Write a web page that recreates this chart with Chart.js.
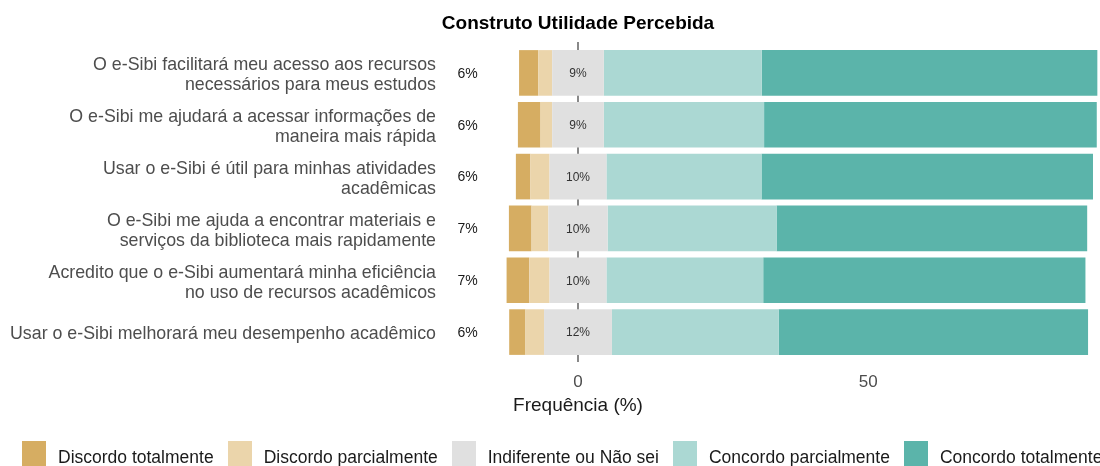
<!DOCTYPE html>
<html lang="pt-BR">
<head>
<meta charset="utf-8">
<title>Construto Utilidade Percebida</title>
<script src="https://cdn.jsdelivr.net/npm/chart.js@4.4.1/dist/chart.umd.min.js"></script>
<style>
  html, body { margin: 0; padding: 0; background: #fff; overflow: hidden; }
  .wrap { position: relative; width: 1100px; height: 466px; }
  .legend {
    position: absolute; top: 441px; left: 22px;
    display: flex; align-items: flex-start;
    font-family: "Liberation Sans", Arial, sans-serif; font-size: 17.5px; color: #1a1a1a;
  }
  .legend .item { display: flex; align-items: flex-start; margin-right: 14px; }
  .legend .key { width: 24px; height: 26px; margin-right: 12px; }
  .legend .txt { line-height: 20px; padding-top: 6px; white-space: nowrap; }
</style>
</head>
<body>
<div class="wrap">
  <canvas id="likertChart" width="1100" height="466"></canvas>
  <div class="legend" id="legend"></div>
</div>
<script>
const questions = [
  ['O e-Sibi facilitará meu acesso aos recursos', 'necessários para meus estudos'],
  ['O e-Sibi me ajudará a acessar informações de', 'maneira mais rápida'],
  ['Usar o e-Sibi é útil para minhas atividades', 'acadêmicas'],
  ['O e-Sibi me ajuda a encontrar materiais e', 'serviços da biblioteca mais rapidamente'],
  ['Acredito que o e-Sibi aumentará minha eficiência', 'no uso de recursos acadêmicos'],
  ['Usar o e-Sibi melhorará meu desempenho acadêmico'],
];

const levels = ['Discordo totalmente', 'Discordo parcialmente', 'Indiferente ou Não sei', 'Concordo parcialmente', 'Concordo totalmente'];
const levelColors = ['#D6AD62', '#EBD5AB', '#E0E0E0', '#ABD8D3', '#5BB4AA'];

// percentages per question
const discordoTotal = [3.3, 3.9, 2.5, 3.9, 3.9, 2.8];
const discordoParcial = [2.4, 2.0, 3.3, 2.9, 3.5, 3.2];
const indiferente = [8.9, 8.9, 9.8, 10.2, 9.8, 11.7];
const concordoParcial = [27.2, 27.6, 26.7, 29.1, 27.0, 28.7];
const concordoTotal = [57.8, 57.3, 57.1, 53.5, 55.5, 53.3];

const xTicks = [0, 50];

(() => {
  const fontFamily = '"Liberation Sans", Arial, sans-serif';
  const halfNeutral = indiferente.map(v => v / 2);

  const disagreeLabels = discordoTotal.map((v, i) => `${Math.round(v + discordoParcial[i])}%`);
  const neutralLabels = indiferente.map(v => `${Math.round(v)}%`);

  const makeSet = (label, data, color) => ({
    label,
    data,
    backgroundColor: color,
    borderWidth: 0,
    categoryPercentage: 1,
    barPercentage: 0.88,
    stack: 'likert',
  });

  const decorations = {
    id: 'decorations',
    beforeDatasetsDraw(chart) {
      const { ctx, chartArea, scales } = chart;
      const x0 = scales.x.getPixelForValue(0);
      ctx.save();
      ctx.strokeStyle = '#3a3a3a';
      ctx.lineWidth = 1.2;
      ctx.beginPath();
      ctx.moveTo(x0, chartArea.top - 5);
      ctx.lineTo(x0, chartArea.bottom + 4);
      ctx.stroke();
      ctx.restore();
    },
    afterDatasetsDraw(chart) {
      const { ctx, scales } = chart;
      const x0 = scales.x.getPixelForValue(0);
      const xLeft = scales.x.getPixelForValue(-19);
      ctx.save();
      ctx.textAlign = 'center';
      ctx.textBaseline = 'middle';
      questions.forEach((q, i) => {
        const y = scales.y.getPixelForValue(i);
        ctx.fillStyle = '#1a1a1a';
        ctx.font = `14px ${fontFamily}`;
        ctx.fillText(disagreeLabels[i], xLeft, y + 1);
        ctx.fillStyle = '#333333';
        ctx.font = `12px ${fontFamily}`;
        ctx.fillText(neutralLabels[i], x0, y + 1);
      });

      // title and axis title
      ctx.fillStyle = '#000000';
      ctx.textBaseline = 'alphabetic';
      ctx.font = `bold 19px ${fontFamily}`;
      ctx.fillText('Construto Utilidade Percebida', x0, 29);
      ctx.fillStyle = '#1a1a1a';
      ctx.font = `19px ${fontFamily}`;
      ctx.fillText('Frequência (%)', x0, 411);
      ctx.restore();
    },
  };

  new Chart(document.getElementById('likertChart'), {
    type: 'bar',
    data: {
      labels: questions,
      datasets: [
        makeSet(levels[2], halfNeutral.map(v => -v), levelColors[2]),
        makeSet(levels[1], discordoParcial.map(v => -v), levelColors[1]),
        makeSet(levels[0], discordoTotal.map(v => -v), levelColors[0]),
        makeSet(levels[2], halfNeutral, levelColors[2]),
        makeSet(levels[3], concordoParcial, levelColors[3]),
        makeSet(levels[4], concordoTotal, levelColors[4]),
      ],
    },
    options: {
      indexAxis: 'y',
      responsive: false,
      animation: false,
      layout: { padding: { top: 47, bottom: 78, left: 0, right: 0 } },
      plugins: {
        legend: { display: false },
        tooltip: { enabled: false },
      },
      scales: {
        x: {
          stacked: true,
          min: -22.563,
          max: 89.907,
          grid: { display: false, drawTicks: false },
          border: { display: false },
          afterBuildTicks: (scale) => { scale.ticks = xTicks.map(value => ({ value })); },
          afterFit: (scale) => { scale.height = 30; },
          ticks: {
            padding: 14,
            color: '#4d4d4d',
            font: { family: fontFamily, size: 17 },
          },
        },
        y: {
          stacked: true,
          grid: { display: false, drawTicks: false },
          border: { display: false },
          afterFit: (scale) => { scale.width = 447; },
          ticks: {
            padding: 11,
            labelOffset: 2.5,
            color: '#4d4d4d',
            font: { family: fontFamily, size: 17.8, lineHeight: 1.12 },
          },
        },
      },
    },
    plugins: [decorations],
  });

  const legend = document.getElementById('legend');
  levels.forEach((name, i) => {
    const item = document.createElement('div');
    item.className = 'item';
    item.innerHTML = `<span class="key" style="background:${levelColors[i]}"></span><span class="txt">${name}</span>`;
    legend.appendChild(item);
  });
})();
</script>
</body>
</html>
